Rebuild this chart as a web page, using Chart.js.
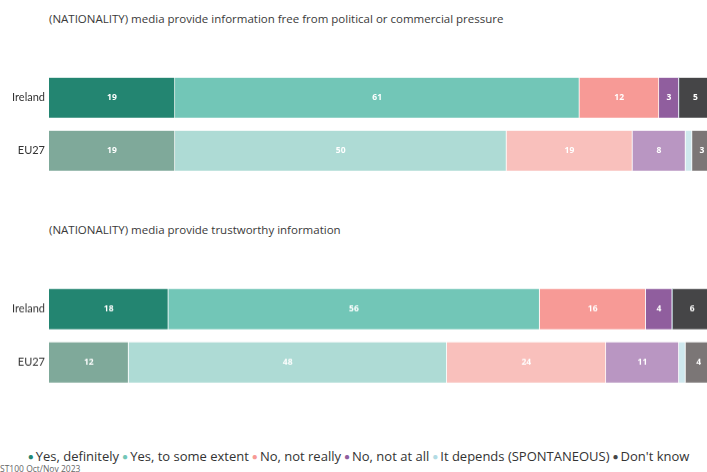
<!DOCTYPE html>
<html>
<head>
<meta charset="utf-8">
<script src="https://cdn.jsdelivr.net/npm/chart.js@4.4.0/dist/chart.umd.min.js"></script>
<style>
	html, body { margin: 0; padding: 0; background: #fff; overflow: hidden; width: 707px; height: 472px; }
	.title { position: absolute; left: 49px; font: 11.5px "Open Sans", sans-serif; color: #3a3a3a; white-space: nowrap; }
	.panel { position: absolute; left: 0; width: 712px; height: 128.4px; }
	#legend { position: absolute; left: 0; width: 720px; top: 447px; text-align: center; font: 13px "Open Sans", sans-serif; color: #333; white-space: nowrap; }
	#legend span { margin-right: 3px; }
	#legend b { font-weight: normal; font-size: 10px; margin-right: 2px; position: relative; top: -1px; }
	#source { position: absolute; left: 0; top: 463px; font: 8.5px "Open Sans", sans-serif; color: #666; }
</style>
</head>
<body>
<div class="title" style="top: 11px;">(NATIONALITY) media provide information free from political or commercial pressure</div>
<div class="panel" style="top: 59.8px;"><canvas id="pressureBar"></canvas></div>
<div class="title" style="top: 222px;">(NATIONALITY) media provide trustworthy information</div>
<div class="panel" style="top: 271.3px;"><canvas id="trustBar"></canvas></div>
<div id="legend"></div>
<div id="source">ST100 Oct/Nov 2023</div>
<script>
"use strict";

var categories = ["Ireland", "EU27"];
var seriesLabels = ["Yes, definitely", "Yes, to some extent", "No, not really", "No, not at all", "It depends (SPONTANEOUS)", "Don't know"];

// Free from political or commercial pressure
var pressureDefinitely = [19, 19];
var pressureSomeExtent = [61, 50];
var pressureNotReally = [12, 19];
var pressureNotAtAll = [3, 8];
var pressureDepends = [0, 1];
var pressureDontKnow = [5, 3];

// Trustworthy information
var trustDefinitely = [18, 12];
var trustSomeExtent = [56, 48];
var trustNotReally = [16, 24];
var trustNotAtAll = [4, 11];
var trustDepends = [0, 1];
var trustDontKnow = [6, 4];

// [Ireland colour, EU27 colour]
var seriesColors = [
	["#238571", "#7fa99a"],
	["#72c6b7", "#aedbd5"],
	["#f79a96", "#f9c0bc"],
	["#905e9e", "#b996c2"],
	["#b2dbe4", "#cfe8ee"],
	["#454547", "#7b7676"],
];

// Draw the value inside each segment
var segmentLabels = {
	id: "segmentLabels",
	afterDatasetsDraw: function (chart) {
		var ctx = chart.ctx;
		ctx.save();
		ctx.font = "bold 8.5px 'Open Sans', sans-serif";
		ctx.fillStyle = "#fff";
		ctx.textAlign = "center";
		ctx.textBaseline = "middle";
		chart.data.datasets.forEach(function (ds, i) {
			if (ds.noLabel) return;
			chart.getDatasetMeta(i).data.forEach(function (bar, j) {
				var v = ds.data[j];
				if (!v) return;
				ctx.fillText(String(v), (bar.x + bar.base) / 2, bar.y);
			});
		});
		ctx.restore();
	},
};

function initStackedBar(id, series) {
	var el = document.getElementById(id);
	new Chart(el, {
		type: "bar",
		data: {
			labels: categories,
			datasets: series.map(function (values, i) {
				return {
					label: seriesLabels[i],
					data: values,
					backgroundColor: seriesColors[i],
					borderColor: "rgba(255,255,255,0.6)",
					borderWidth: { left: 0, right: 1, top: 0, bottom: 0 },
					borderSkipped: false,
					barThickness: 40,
					noLabel: i === 4,
				};
			}),
		},
		options: {
			indexAxis: "y",
			responsive: true,
			maintainAspectRatio: false,
			animation: false,
			layout: { padding: 0 },
			scales: {
				x: {
					stacked: true,
					display: false,
					min: 0,
					max: 100,
				},
				y: {
					stacked: true,
					grid: { display: false, drawTicks: false },
					border: { display: false },
					afterFit: function (scale) {
						scale.width = 49;
					},
					ticks: {
						padding: 4,
						color: "#333",
						font: { family: "Lato, sans-serif", size: 11, lineHeight: 1.309 },
					},
				},
			},
			plugins: {
				legend: { display: false },
				tooltip: { enabled: false },
			},
		},
		plugins: [segmentLabels],
	});
}

// HTML legend
function buildLegend() {
	var legend = document.getElementById("legend");
	var html = "";
	seriesLabels.forEach(function (label, i) {
		html += '<span><b style="color:' + seriesColors[i][0] + '">&#9679;</b>' + label + "</span>";
	});
	legend.innerHTML = html;
}

(function () {
	initStackedBar("pressureBar", [pressureDefinitely, pressureSomeExtent, pressureNotReally, pressureNotAtAll, pressureDepends, pressureDontKnow]);
	initStackedBar("trustBar", [trustDefinitely, trustSomeExtent, trustNotReally, trustNotAtAll, trustDepends, trustDontKnow]);
	buildLegend();
})();
</script>
</body>
</html>
